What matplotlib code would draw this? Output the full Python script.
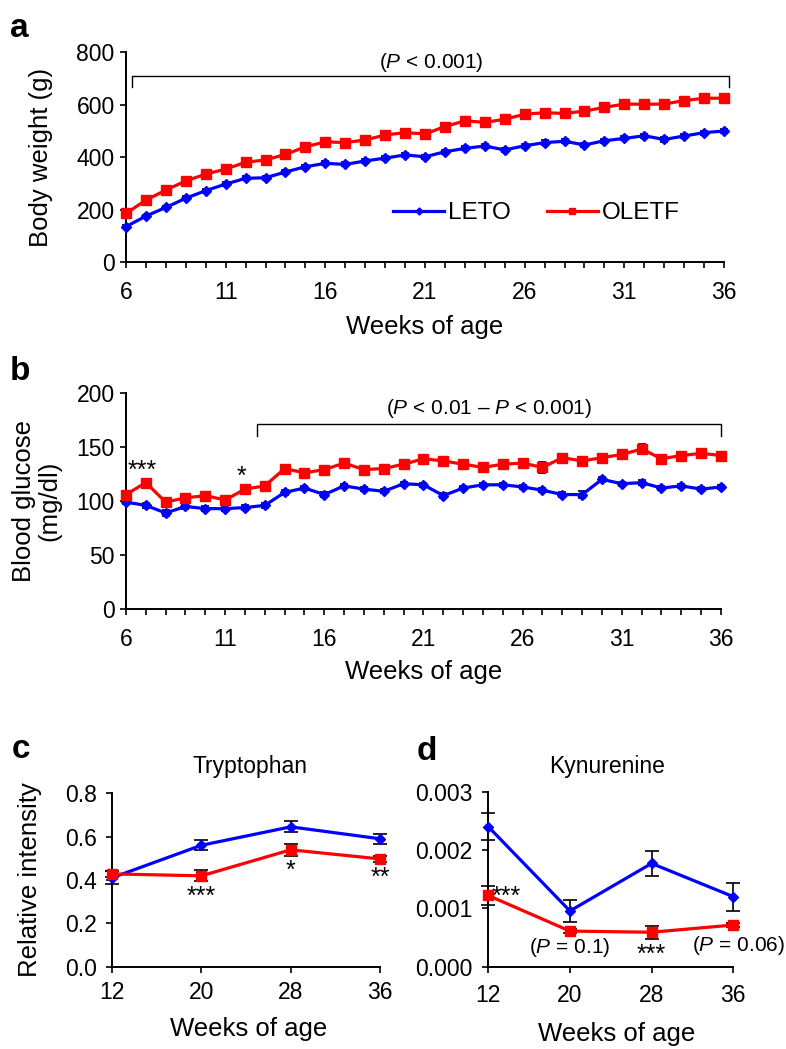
import numpy as np
import matplotlib.pyplot as plt

plt.rcParams['font.family'] = ['Liberation Sans', 'DejaVu Sans']
plt.rcParams['mathtext.fontset'] = 'custom'
plt.rcParams['mathtext.rm'] = 'Liberation Sans'
plt.rcParams['mathtext.it'] = 'Liberation Sans:italic'
plt.rcParams['axes.linewidth'] = 1.4

BLUE = '#0000ff'
RED = '#ff0000'

# a: body weight
weeks = list(range(6, 37))
leto_bw = [135, 175, 208, 243, 272, 297, 319, 321, 343, 363, 376, 372, 385, 396, 408, 401,
           420, 433, 442, 427, 443, 455, 460, 446, 462, 471, 481, 467, 480, 493, 499]
leto_bw_err = [6, 6, 6, 7, 7, 7, 7, 7, 7, 8, 8, 8, 8, 8, 8, 8,
               8, 8, 8, 8, 8, 8, 8, 8, 8, 8, 8, 8, 8, 8, 8]
oletf_bw = [185, 236, 274, 309, 335, 354, 380, 389, 410, 439, 458, 455, 465, 484, 493, 488,
            516, 538, 532, 544, 563, 569, 566, 575, 589, 602, 601, 602, 615, 624, 624]
oletf_bw_err = [7, 7, 7, 8, 8, 8, 8, 8, 9, 9, 9, 9, 9, 9, 10, 10,
                10, 10, 10, 10, 10, 10, 10, 10, 11, 11, 11, 11, 11, 11, 11]

# b: blood glucose
leto_bg = [99, 96, 89, 95, 93, 93, 94, 96, 108, 112, 106, 114, 111, 109, 116, 115,
           105, 112, 115, 115, 113, 110, 106, 106, 120, 116, 117, 112, 114, 111, 113]
leto_bg_err = [2, 2, 3, 2, 2, 2, 2, 2, 2, 2, 2, 2, 2, 2, 2, 2,
               2, 2, 2, 2, 2, 2, 2, 3, 2, 2, 2, 2, 2, 2, 2]
oletf_bg = [106, 117, 99, 103, 105, 101, 111, 114, 130, 126, 129, 135, 129, 130, 134, 139,
            137, 134, 131, 134, 135, 131, 140, 137, 140, 143, 148, 139, 142, 144, 142]
oletf_bg_err = [3, 3, 3, 3, 3, 3, 4, 3, 3, 3, 3, 3, 3, 3, 3, 3,
                3, 3, 3, 3, 3, 5, 3, 4, 3, 3, 5, 3, 3, 4, 3]

# c, d: metabolites
met_weeks = [12, 20, 28, 36]
leto_trp = [0.41, 0.56, 0.645, 0.59]
leto_trp_err = [0.03, 0.023, 0.025, 0.023]
oletf_trp = [0.428, 0.419, 0.539, 0.497]
oletf_trp_err = [0.015, 0.025, 0.028, 0.015]
leto_kyn = [0.0024, 0.000955, 0.00177, 0.0012]
leto_kyn_err = [0.00023, 0.00019, 0.00021, 0.00024]
oletf_kyn = [0.00122, 0.00061, 0.00059, 0.000714]
oletf_kyn_err = [0.00017, 0.00004, 0.00011, 0.00004]

fig = plt.figure(figsize=(7.86, 10.49), dpi=100)


def style(ax, xpad, ypad):
    ax.spines['top'].set_visible(False)
    ax.spines['right'].set_visible(False)
    ax.tick_params(direction='out', length=4.5, width=1.2, labelsize=16.5)
    ax.tick_params(axis='x', pad=xpad)
    ax.tick_params(axis='y', pad=ypad)


def series(ax, x, y, err, color, marker, ms, cap):
    ax.errorbar(x, y, yerr=err, fmt='none', ecolor='black', elinewidth=1.2,
                capsize=cap, capthick=1.2, zorder=3, clip_on=False)
    ax.plot(x, y, color=color, marker=marker, ms=ms, lw=2.3, zorder=4, clip_on=False)


def bracket(ax, x0, x1, y, drop):
    ax.plot([x0, x0, x1, x1], [y - drop, y, y, y - drop], color='black', lw=1.0, clip_on=False)


# ---- panel a
ax1 = fig.add_axes([0.1603, 0.7502, 0.7608, 0.2002])
series(ax1, weeks, leto_bw, leto_bw_err, BLUE, 'D', 5.5, 3)
series(ax1, weeks, oletf_bw, oletf_bw_err, RED, 's', 7.5, 3)
ax1.set_xlim(6, 36)
ax1.set_ylim(0, 800)
ax1.set_yticks([0, 200, 400, 600, 800])
ax1.set_xticks(weeks)
ax1.set_xticklabels([str(w) if (w - 6) % 5 == 0 else '' for w in weeks])
style(ax1, 9, 3.6)
ax1.set_ylabel('Body weight (g)', fontsize=18.5)
ax1.yaxis.set_label_coords(-0.122, 0.5)
ax1.set_xlabel('Weeks of age', fontsize=18.5)
ax1.xaxis.set_label_coords(0.5, -0.25)
bracket(ax1, 6.3, 36.25, 710, 45)
ax1.text(21.3, 760, '($\\mathit{P}$ < 0.001)', ha='center', va='center', fontsize=15)
ax1.legend(['LETO', 'OLETF'], ncol=2, frameon=False, fontsize=17.5, loc='center left',
           bbox_to_anchor=(0.4465, 0.233), borderpad=0, borderaxespad=0,
           handlelength=2.1, handletextpad=0.15, columnspacing=1.5, markerscale=0.65)

# ---- panel b
ax2 = fig.add_axes([0.1603, 0.4190, 0.757, 0.2067])
series(ax2, weeks, leto_bg, leto_bg_err, BLUE, 'D', 5.5, 3)
series(ax2, weeks, oletf_bg, oletf_bg_err, RED, 's', 7.5, 3)
ax2.set_xlim(6, 36)
ax2.set_ylim(0, 200)
ax2.set_yticks([0, 50, 100, 150, 200])
ax2.set_xticks(weeks)
ax2.set_xticklabels([str(w) if (w - 6) % 5 == 0 else '' for w in weeks])
style(ax2, 9, 3.6)
ax2.set_ylabel('Blood glucose\n(mg/dl)', fontsize=18.5, linespacing=1.1)
ax2.yaxis.set_label_coords(-0.108, 0.5)
ax2.set_xlabel('Weeks of age', fontsize=18.5)
ax2.xaxis.set_label_coords(0.5, -0.233)
bracket(ax2, 12.6, 36, 171, 11)
ax2.text(24.3, 185, '($\\mathit{P}$ < 0.01 \u2013 $\\mathit{P}$ < 0.001)', ha='center', va='center', fontsize=15)
ax2.text(6.8, 128, '***', ha='center', va='center', fontsize=18)
ax2.text(11.8, 122, '*', ha='center', va='center', fontsize=18)

# ---- panel c
ax3 = fig.add_axes([0.1425, 0.0785, 0.341, 0.1653])
series(ax3, met_weeks, leto_trp, leto_trp_err, BLUE, 'D', 5.5, 5)
series(ax3, met_weeks, oletf_trp, oletf_trp_err, RED, 's', 7.5, 5)
ax3.set_xlim(12, 36)
ax3.set_ylim(0, 0.8)
ax3.set_xticks(met_weeks)
ax3.set_yticks([0.0, 0.2, 0.4, 0.6, 0.8])
ax3.set_yticklabels(['0.0', '0.2', '0.4', '0.6', '0.8'])
style(ax3, 6, 6.5)
ax3.set_ylabel('Relative intensity', fontsize=18.5)
ax3.yaxis.set_label_coords(-0.261, 0.5)
ax3.set_xlabel('Weeks of age', fontsize=18.5)
ax3.xaxis.set_label_coords(0.51, -0.288)
ax3.text(0.515, 1.119, 'Tryptophan', transform=ax3.transAxes, ha='center', va='baseline', fontsize=16.5)
ax3.text(20, 0.32, '***', ha='center', va='center', fontsize=18)
ax3.text(28, 0.44, '*', ha='center', va='center', fontsize=18)
ax3.text(36, 0.41, '**', ha='center', va='center', fontsize=18)

# ---- panel d
ax4 = fig.add_axes([0.6212, 0.0785, 0.3117, 0.1668])
series(ax4, met_weeks, leto_kyn, leto_kyn_err, BLUE, 'D', 5.5, 5)
series(ax4, met_weeks, oletf_kyn, oletf_kyn_err, RED, 's', 7.5, 5)
ax4.set_xlim(12, 36)
ax4.set_ylim(0, 0.003)
ax4.set_xticks(met_weeks)
ax4.set_yticks([0.0, 0.001, 0.002, 0.003])
ax4.set_yticklabels(['0.000', '0.001', '0.002', '0.003'])
style(ax4, 8, 7)
ax4.set_xlabel('Weeks of age', fontsize=18.5)
ax4.xaxis.set_label_coords(0.525, -0.314)
ax4.text(0.484, 1.109, 'Kynurenine', transform=ax4.transAxes, ha='center', va='baseline', fontsize=16.5)
ax4.text(12.3, 0.0012, '***', ha='left', va='center', fontsize=18)
ax4.text(20, 0.00032, '($\\mathit{P}$ = 0.1)', ha='center', va='center', fontsize=15)
ax4.text(28, 0.0002, '***', ha='center', va='center', fontsize=18)
ax4.text(36.5, 0.00037, '($\\mathit{P}$ = 0.06)', ha='center', va='center', fontsize=15)

# panel letters
for lab, x, y in [('a', 10, 37), ('b', 10, 380), ('c', 12, 758), ('d', 417, 760)]:
    fig.text(x / 786, 1 - y / 1049, lab, fontsize=24, fontweight='bold', va='baseline', ha='left')

fig.savefig('out.png', dpi=100)
